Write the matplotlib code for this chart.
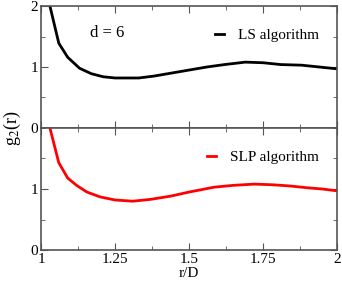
import matplotlib
matplotlib.use("Agg")
import matplotlib.pyplot as plt
from matplotlib.ticker import MultipleLocator

plt.rcParams['font.family'] = ['Liberation Serif', 'DejaVu Serif']
plt.rcParams['mathtext.fontset'] = 'stix'

# g2(r) from the LS algorithm
r_ls = [1.03, 1.06, 1.09, 1.13, 1.17, 1.21, 1.25, 1.29, 1.33, 1.38, 1.44,
        1.5, 1.56, 1.62, 1.69, 1.75, 1.81, 1.88, 1.94, 2.0]
g_ls = [2.0, 1.39, 1.16, 0.98, 0.89, 0.84, 0.82, 0.82, 0.82, 0.85, 0.90,
        0.95, 1.0, 1.04, 1.08, 1.07, 1.04, 1.03, 1.0, 0.97]

# g2(r) from the SLP algorithm
r_slp = [1.03, 1.06, 1.09, 1.12, 1.155, 1.2, 1.25, 1.31, 1.37, 1.44,
         1.5, 1.585, 1.65, 1.72, 1.78, 1.84, 1.9, 1.95, 2.0]
g_slp = [2.0, 1.43, 1.18, 1.06, 0.95, 0.87, 0.82, 0.80, 0.83, 0.885,
         0.95, 1.03, 1.06, 1.08, 1.07, 1.05, 1.02, 1.0, 0.97]

fig = plt.figure(figsize=(3.42, 2.81), dpi=100)
ax1 = fig.add_axes([0.12, 0.5445, 0.8655, 0.4341])
ax2 = fig.add_axes([0.12, 0.1103, 0.8655, 0.4342])

ax1.plot(r_ls, g_ls, color='black', lw=2, label='LS algorithm')
ax2.plot(r_slp, g_slp, color='red', lw=2, label='SLP algorithm')

for ax in (ax1, ax2):
    ax.set_xlim(1, 2)
    ax.set_ylim(0, 2)
    ax.xaxis.set_major_locator(MultipleLocator(0.25))
    ax.xaxis.set_minor_locator(MultipleLocator(0.125))
    ax.yaxis.set_major_locator(MultipleLocator(1))
    ax.yaxis.set_minor_locator(MultipleLocator(0.5))
    ax.tick_params(which='both', direction='in', top=True, right=True,
                   color='#555555', labelsize=11, pad=2)
    ax.tick_params(which='major', length=5)
    ax.tick_params(which='minor', length=3)
    for s in ax.spines.values():
        s.set_color('#555555')
        s.set_linewidth(1.2)
    leg = ax.legend(loc='upper right', frameon=False, fontsize=11,
                    handlelength=0.6, handletextpad=0.9,
                    bbox_to_anchor=(0.985, 0.93))

ax1.tick_params(labelbottom=False)
ax2.set_yticks([0, 1])
ax2.set_xticks([1, 1.25, 1.5, 1.75, 2])
ax2.set_xticklabels(['1', '1.25', '1.5', '1.75', '2'])

ax1.text(0.223, 0.775, 'd = 6', transform=ax1.transAxes, fontsize=12,
         ha='center', va='center')
ax2.set_xlabel('r/D', fontsize=11, labelpad=1)
fig.text(0.035, 0.5445, r'g$_2$(r)', rotation=90, fontsize=13,
         ha='center', va='center')

fig.savefig('out.png', dpi=100)
